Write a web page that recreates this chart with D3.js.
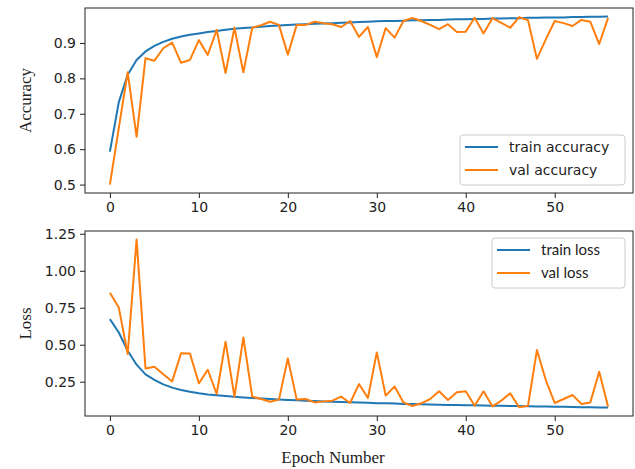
<!DOCTYPE html>
<html>
<head>
<meta charset="utf-8">
<script src="https://cdn.jsdelivr.net/npm/d3@7"></script>
<style>
  body { margin: 0; background: #fff; }
  svg { display: block; }
  .tick text { font-family: "DejaVu Sans", sans-serif; font-size: 14px; fill: #222; }
  .tick line { stroke: #222; }
  .axis-title { font-family: "Liberation Serif", serif; font-size: 17px; fill: #222; }
</style>
</head>
<body>
<svg width="635" height="469"></svg>
<script>
// Epoch numbers
const epochs = d3.range(0, 57);

const trainAcc = [0.593, 0.733, 0.81, 0.852, 0.876, 0.892, 0.903, 0.912, 0.918, 0.923,
  0.927, 0.931, 0.934, 0.937, 0.940, 0.942, 0.944, 0.946, 0.948, 0.949,
  0.951, 0.952, 0.953, 0.954, 0.955, 0.956, 0.957, 0.958, 0.959, 0.960,
  0.961, 0.962, 0.962, 0.963, 0.964, 0.964, 0.965, 0.965, 0.966, 0.967,
  0.967, 0.968, 0.968, 0.969, 0.969, 0.970, 0.970, 0.971, 0.971, 0.972,
  0.972, 0.972, 0.973, 0.973, 0.974, 0.974, 0.975];

const valAcc = [0.50, 0.66, 0.817, 0.635, 0.857, 0.85, 0.885, 0.901, 0.844, 0.852,
  0.908, 0.866, 0.937, 0.815, 0.943, 0.817, 0.943, 0.95, 0.96, 0.951,
  0.867, 0.951, 0.951, 0.96, 0.956, 0.953, 0.945, 0.962, 0.917, 0.945,
  0.86, 0.942, 0.915, 0.962, 0.971, 0.962, 0.951, 0.939, 0.953, 0.931,
  0.932, 0.971, 0.927, 0.97, 0.957, 0.943, 0.973, 0.964, 0.855, 0.91,
  0.962, 0.956, 0.948, 0.965, 0.96, 0.897, 0.971];

const trainLoss = [0.673, 0.583, 0.459, 0.365, 0.30, 0.262, 0.232, 0.210, 0.194, 0.182,
  0.172, 0.164, 0.158, 0.153, 0.148, 0.144, 0.140, 0.136, 0.133, 0.130,
  0.127, 0.124, 0.122, 0.119, 0.117, 0.115, 0.113, 0.111, 0.109, 0.107,
  0.105, 0.104, 0.102, 0.100, 0.099, 0.097, 0.096, 0.095, 0.093, 0.092,
  0.091, 0.090, 0.089, 0.088, 0.087, 0.086, 0.085, 0.084, 0.083, 0.082,
  0.081, 0.080, 0.079, 0.078, 0.077, 0.076, 0.075];

const valLoss = [0.852, 0.751, 0.437, 1.212, 0.34, 0.351, 0.30, 0.252, 0.443, 0.44,
  0.239, 0.331, 0.167, 0.52, 0.149, 0.549, 0.149, 0.133, 0.115, 0.129,
  0.407, 0.129, 0.133, 0.11, 0.117, 0.122, 0.149, 0.106, 0.234, 0.14,
  0.448, 0.156, 0.218, 0.11, 0.086, 0.104, 0.133, 0.185, 0.126, 0.178,
  0.185, 0.088, 0.185, 0.083, 0.122, 0.171, 0.077, 0.088, 0.464, 0.261,
  0.106, 0.133, 0.16, 0.10, 0.11, 0.317, 0.081];

const xTicks = [0, 10, 20, 30, 40, 50];
const accTicks = [0.5, 0.6, 0.7, 0.8, 0.9];
const lossTicks = [0.25, 0.5, 0.75, 1.0, 1.25];

const blue = "#1f77b4", orange = "#ff7f0e";
const svg = d3.select("svg");

// padded extent, like matplotlib's default 5% margins
function padded(arr) {
  const [lo, hi] = d3.extent(arr);
  const m = (hi - lo) * 0.05;
  return [lo - m, hi + m];
}

const left = 85, right = 633;
const x = d3.scaleLinear().domain(padded(epochs)).range([left, right]);

function panel(opts) {
  const y = d3.scaleLinear().domain(padded(opts.series[0].values.concat(opts.series[1].values)))
    .range([opts.bottom, opts.top]);
  const g = svg.append("g");

  g.append("g")
    .attr("transform", `translate(0,${opts.bottom})`)
    .call(d3.axisBottom(x).tickValues(xTicks).tickSize(5).tickPadding(4).tickFormat(d3.format("d")))
    .call(a => a.select(".domain").remove());

  g.append("g")
    .attr("transform", `translate(${left},0)`)
    .call(d3.axisLeft(y).tickValues(opts.ticks).tickSize(5).tickPadding(4).tickFormat(d3.format(opts.fmt)))
    .call(a => a.select(".domain").remove());

  const line = d3.line().x((d, i) => x(epochs[i])).y(d => y(d));
  opts.series.forEach(s => {
    g.append("path").datum(s.values)
      .attr("d", line)
      .attr("fill", "none")
      .attr("stroke", s.color)
      .attr("stroke-width", 2)
      .attr("stroke-linejoin", "round");
  });

  g.append("rect")
    .attr("x", left).attr("y", opts.top)
    .attr("width", right - left).attr("height", opts.bottom - opts.top)
    .attr("fill", "none").attr("stroke", "#222").attr("stroke-width", 1);

  // y label
  g.append("text").attr("class", "axis-title")
    .attr("transform", `translate(31,${(opts.top + opts.bottom) / 2}) rotate(-90)`)
    .attr("text-anchor", "middle")
    .text(opts.label);

  // legend
  const lg = opts.legend;
  g.append("rect")
    .attr("x", lg.x).attr("y", lg.y).attr("width", lg.w).attr("height", 50)
    .attr("rx", 3).attr("fill", "#fff").attr("fill-opacity", 0.8)
    .attr("stroke", "#ccc");
  opts.series.forEach((s, i) => {
    const cy = lg.y + 12 + i * 23;
    g.append("line")
      .attr("x1", lg.x + 5).attr("x2", lg.x + 38)
      .attr("y1", cy).attr("y2", cy)
      .attr("stroke", s.color).attr("stroke-width", 2);
    g.append("text")
      .attr("x", lg.x + 49).attr("y", cy)
      .attr("dy", "0.35em")
      .style("font-family", lg.font)
      .style("font-size", lg.size + "px")
      .style("fill", "#222")
      .text(s.name);
  });
}

panel({
  top: 8, bottom: 193, ticks: accTicks, fmt: ".1f", label: "Accuracy",
  series: [
    { name: "train accuracy", values: trainAcc, color: blue },
    { name: "val accuracy", values: valAcc, color: orange }
  ],
  legend: { x: 460, y: 135, w: 165, font: "'DejaVu Sans', sans-serif", size: 14 }
});

panel({
  top: 231, bottom: 416, ticks: lossTicks, fmt: ".2f", label: "Loss",
  series: [
    { name: "train loss", values: trainLoss, color: blue },
    { name: "val loss", values: valLoss, color: orange }
  ],
  legend: { x: 492, y: 238, w: 133, font: "Lato, sans-serif", size: 15 }
});

svg.append("text").attr("class", "axis-title")
  .attr("x", 333).attr("y", 463)
  .attr("text-anchor", "middle")
  .text("Epoch Number");
</script>
</body>
</html>
